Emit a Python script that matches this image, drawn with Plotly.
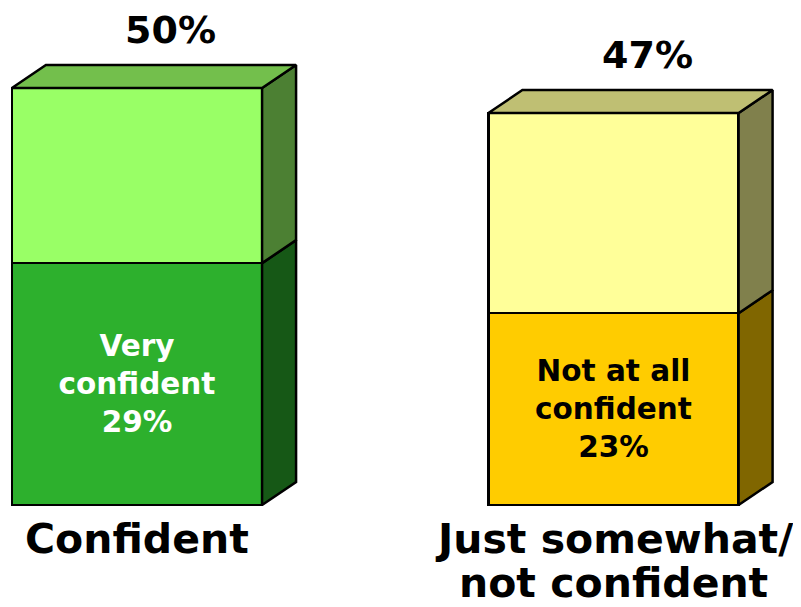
import plotly.graph_objects as go

# values (percent)
CATEGORIES = ["Confident", "Just somewhat/<br>not confident"]
STRONG_LABELS = ["Very<br>confident", "Not at all<br>confident"]
STRONG_VALUES = [29, 23]
OTHER_VALUES = [21, 24]

STRONG_COLORS = ["#2db02d", "#ffcc00"]
OTHER_COLORS = ["#99ff66", "#ffff99"]
INNER_TEXT_COLORS = ["white", "black"]

X_POS = [0, 1]
FONT = "DejaVu Sans"
# the page body has an 8px margin, so the figure is a bit smaller than the window
WIDTH, HEIGHT = 793, 599
X_RANGE = [-0.2707, 1.3935]
Y_RANGE = [-12.23, 59.59]
BAR_WIDTH = 0.525
DEPTH_PX = (34, 23)
EDGE = dict(color="black", width=2.5)

# depth offset of the 3d faces in data units
dx = DEPTH_PX[0] * (X_RANGE[1] - X_RANGE[0]) / WIDTH
dy = DEPTH_PX[1] * (Y_RANGE[1] - Y_RANGE[0]) / HEIGHT


def shade(hex_color, factor):
    hex_color = hex_color.lstrip("#")
    rgb = [int(hex_color[i:i + 2], 16) for i in (0, 2, 4)]
    return "rgb({},{},{})".format(*[round(c * factor) for c in rgb])


def face(x, y, color):
    return go.Scatter(
        x=x + [x[0]],
        y=y + [y[0]],
        mode="lines",
        fill="toself",
        fillcolor=color,
        line=EDGE,
        hoverinfo="skip",
        showlegend=False,
    )


fig = go.Figure()

fig.add_bar(
    x=X_POS,
    y=STRONG_VALUES,
    width=BAR_WIDTH,
    marker=dict(color=STRONG_COLORS, line=EDGE),
    text=[f"{label}<br>{value}%" for label, value in zip(STRONG_LABELS, STRONG_VALUES)],
    textposition="inside",
    insidetextanchor="middle",
    textangle=0,
    textfont=dict(family=FONT, size=29.5, weight="bold", color=INNER_TEXT_COLORS),
    hoverinfo="skip",
    showlegend=False,
)
fig.add_bar(
    x=X_POS,
    y=OTHER_VALUES,
    width=BAR_WIDTH,
    marker=dict(color=OTHER_COLORS, line=EDGE),
    hoverinfo="skip",
    showlegend=False,
)

for i, xc in enumerate(X_POS):
    xl, xr = xc - BAR_WIDTH / 2, xc + BAR_WIDTH / 2
    low, high = STRONG_VALUES[i], STRONG_VALUES[i] + OTHER_VALUES[i]
    for y0, y1, color in [(0, low, STRONG_COLORS[i]), (low, high, OTHER_COLORS[i])]:
        fig.add_trace(face([xr, xr + dx, xr + dx, xr], [y0, y0 + dy, y1 + dy, y1], shade(color, 0.5)))
    fig.add_trace(face([xl, xl + dx, xr + dx, xr], [high, high + dy, high + dy, high], shade(OTHER_COLORS[i], 0.75)))

    fig.add_annotation(
        x=xc + dx, y=high + dy, text=f"{high}%",
        yanchor="bottom", yshift=11, showarrow=False,
        font=dict(family=FONT, size=38, weight="bold", color="black"),
    )
    for line_no, line in enumerate(CATEGORIES[i].split("<br>")):
        fig.add_annotation(
            x=xc, y=0, text=line,
            yanchor="top", yshift=-8 - 44 * line_no, showarrow=False,
            font=dict(family=FONT, size=41, weight="bold", color="black"),
        )

fig.update_layout(
    width=WIDTH,
    height=HEIGHT,
    barmode="stack",
    margin=dict(l=0, r=0, t=0, b=0),
    paper_bgcolor="white",
    plot_bgcolor="white",
    showlegend=False,
)
fig.update_xaxes(range=X_RANGE, visible=False, fixedrange=True)
fig.update_yaxes(range=Y_RANGE, visible=False, fixedrange=True)

fig.write_html("out.html")
